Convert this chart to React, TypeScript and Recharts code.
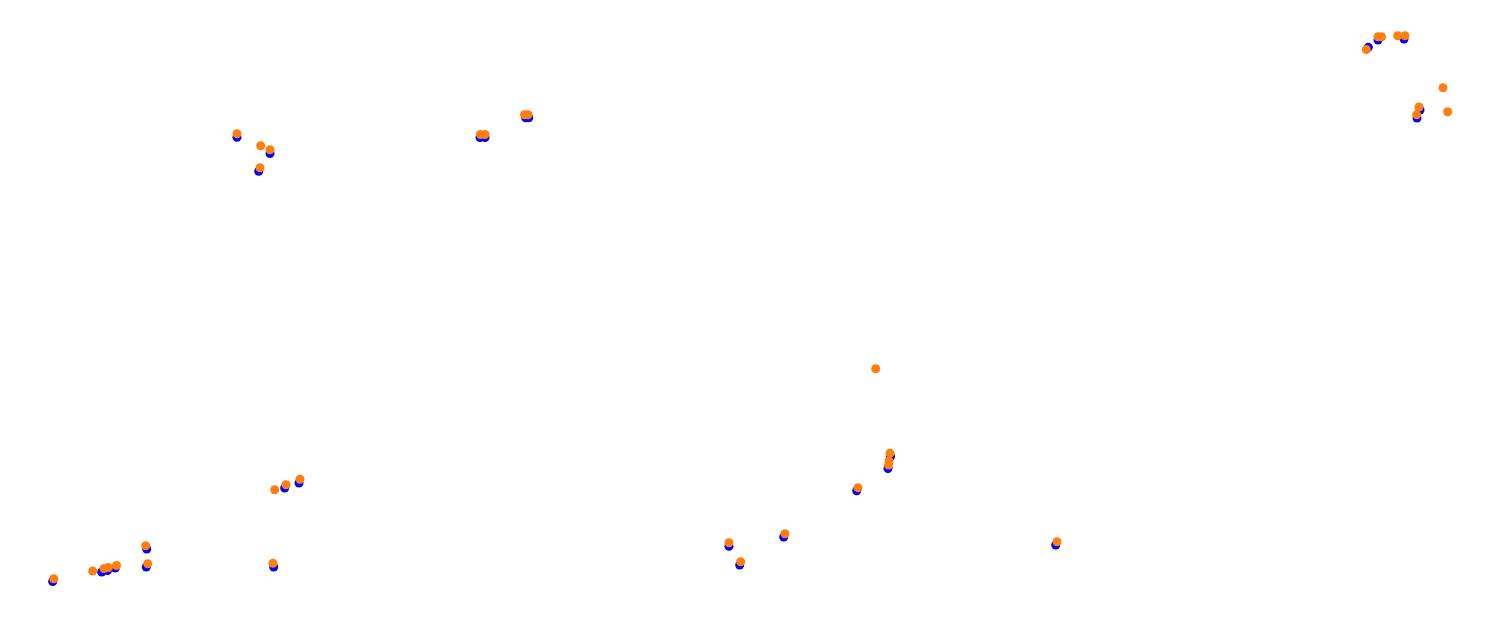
import React from "react";
import { ScatterChart, Scatter, XAxis, YAxis, ZAxis } from "recharts";

// positions (x to the right, y downward)
const blueX = [52.7, 101.7, 107.5, 115.3, 146.7, 146.3, 237, 270, 258.7, 284.7, 299, 273.7, 480, 485, 525.7, 528.7, 729, 739.7, 783.7, 856.7, 890.5, 888, 1055.7, 1368.3, 1378, 1404, 1420, 1417];
const blueY = [581.5, 572, 570.5, 568, 549, 567, 137.3, 153.5, 171.3, 488, 483, 567, 137.5, 137.5, 117.7, 117.7, 546.3, 565, 537, 490.7, 456.5, 468.5, 545, 47.3, 40, 39, 110, 118];

const orangeX = [53.7, 92.7, 104, 108.3, 116.5, 145.7, 147.7, 237, 260.7, 270, 260, 274.7, 286, 300, 273, 480.5, 485, 524.5, 528, 729, 740.7, 785, 858, 875.7, 890, 889, 888.5, 1057, 1366.3, 1378, 1381.5, 1397.7, 1405, 1443, 1447.7, 1419, 1416.7];
const orangeY = [578.7, 571, 568.5, 567.5, 565.5, 545.7, 563.7, 133.7, 145.7, 149.7, 167.7, 489.7, 484.7, 479.3, 563.3, 134.5, 134.5, 114.7, 114.7, 542.7, 561.7, 533.7, 487.7, 368.7, 453.3, 461, 465, 541.7, 49.5, 36.7, 36.7, 35.7, 35.7, 87.7, 111.7, 107, 114.7];

const blueData = blueX.map((x, i) => ({ x, y: blueY[i] }));
const orangeData = orangeX.map((x, i) => ({ x, y: orangeY[i] }));

export default function App() {
  return (
    <div style={{ position: "absolute", left: 0, top: 0, width: 1489, height: 638, background: "#fff" }}>
      <ScatterChart width={1489} height={638} margin={{ top: 0, right: 0, bottom: 0, left: 0 }}>
        <XAxis type="number" dataKey="x" domain={[0, 1489]} allowDataOverflow hide />
        <YAxis type="number" dataKey="y" domain={[0, 638]} allowDataOverflow reversed hide />
        <ZAxis range={[50, 50]} />
        <Scatter data={blueData} fill="#0000ff" isAnimationActive={false} />
        <Scatter data={orangeData} fill="#ff7f0e" isAnimationActive={false} />
      </ScatterChart>
    </div>
  );
}
